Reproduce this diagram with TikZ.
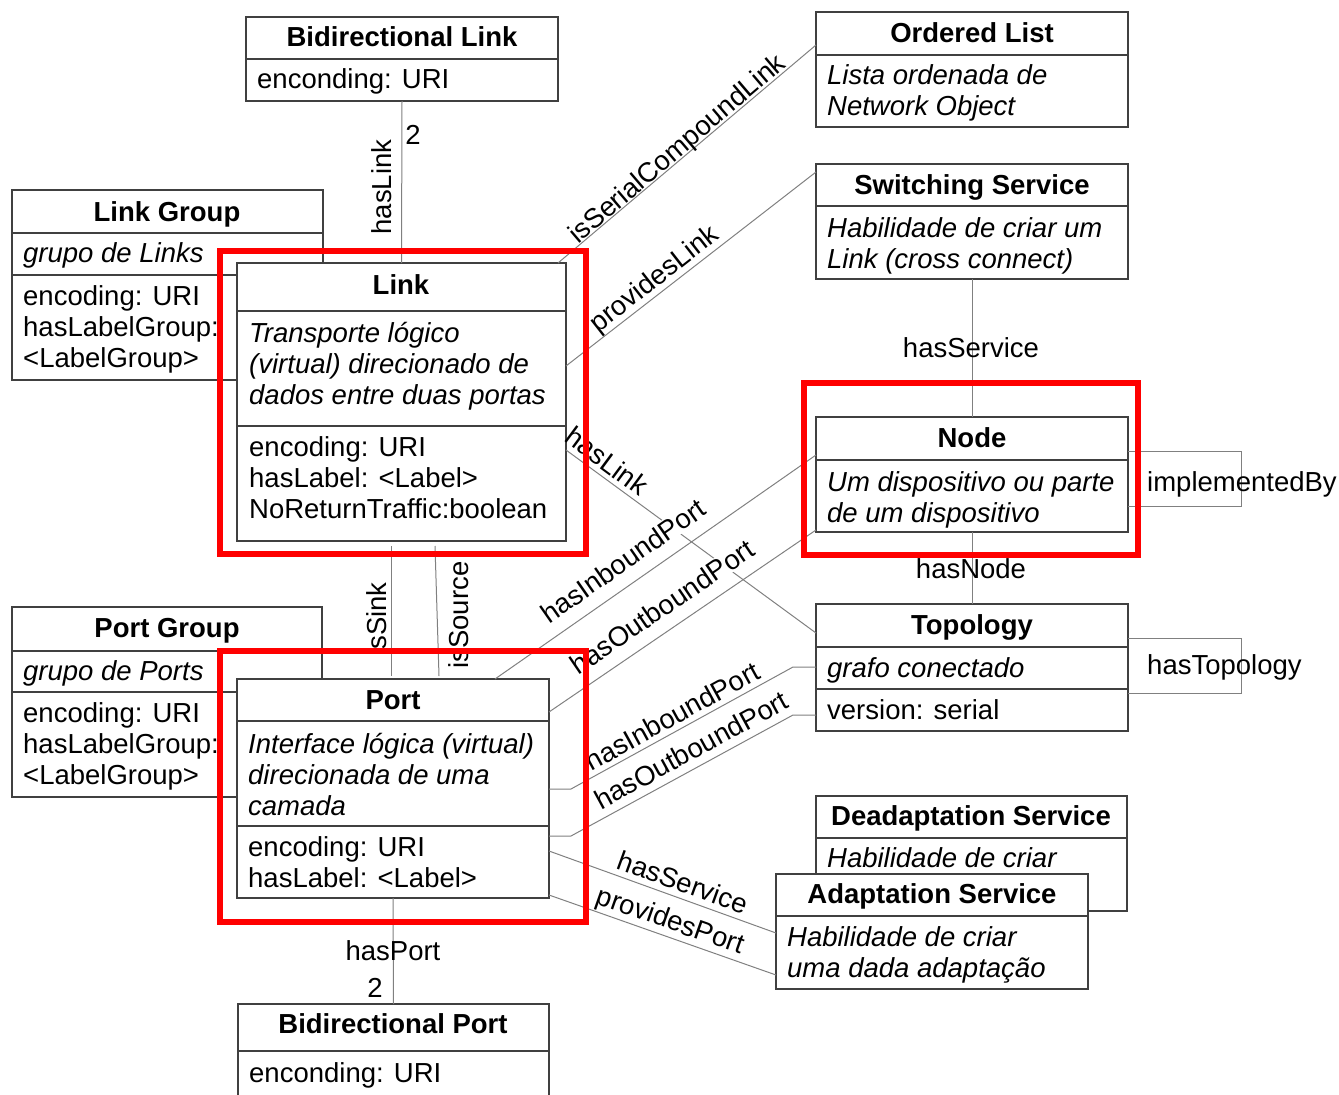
\documentclass[tikz,border=0pt]{standalone}
\usepackage{fontspec}
\setmainfont{Liberation Sans}

% class box: name, left, top, width, height
\newcommand\umlbox[5]{\node[umlbox, minimum width=#4pt, minimum height=#5pt] (#1) at (#2,#3) {};}
% horizontal compartment separator inside a box
\newcommand\umlrow[2]{\draw[boxline] (#1.west |- 0,#2) -- (#1.east |- 0,#2);}
% one line of text: name, style, x, baseline y, text
\newcommand\boxtext[5]{\node[#2] (#1) at (#3,#4) {#5};}
\newcommand\bodyfont{\fontsize{27.5}{31}\selectfont}

\begin{document}
\begin{tikzpicture}[x=1pt, y=-1pt,
  boxline/.style={draw=black!75, line width=1.3pt},
  umlbox/.style={boxline, fill=white, inner sep=0pt, outer sep=0pt, anchor=north west},
  txt/.style={inner sep=0pt, anchor=base west, font=\bodyfont},
  desc/.style={txt, font=\bodyfont\itshape},
  ttl/.style={inner sep=0pt, anchor=base, font=\bodyfont\bfseries},
  conn/.style={draw=black!50, line width=1pt},
  lbl/.style={inner sep=1pt, font=\bodyfont},
  lblw/.style={lbl, fill=white},
  hilite/.style={draw=red, line width=6pt, inner sep=0pt, outer sep=0pt, anchor=north west}
]
\useasboundingbox (0,0) rectangle (1339,1095);

% ---------- classes ----------
\umlbox{bl}{246}{17}{312}{84}
\umlrow{bl}{59}
\boxtext{bl-t}{ttl}{402}{46}{Bidirectional Link}
\boxtext{bl-a}{txt}{257}{88}{enconding: URI}

\umlbox{ol}{816}{12}{312}{115}
\umlrow{ol}{55}
\boxtext{ol-t}{ttl}{972}{42}{Ordered List}
\boxtext{ol-d1}{desc}{827}{84}{Lista ordenada de}
\boxtext{ol-d2}{desc}{827}{115}{Network Object}

\umlbox{lg}{12}{190}{311}{190}
\umlrow{lg}{233}
\umlrow{lg}{275}
\boxtext{lg-t}{ttl}{167}{221}{Link Group}
\boxtext{lg-d}{desc}{23}{262}{grupo de Links}
\boxtext{lg-a1}{txt}{23}{305}{encoding: URI}
\boxtext{lg-a2}{txt}{23}{336}{hasLabelGroup:}
\boxtext{lg-a3}{txt}{23}{367}{<LabelGroup>}

\umlbox{ss}{816}{164}{312}{115}
\umlrow{ss}{206}
\boxtext{ss-t}{ttl}{972}{194}{Switching Service}
\boxtext{ss-d1}{desc}{827}{237}{Habilidade de criar um}
\boxtext{ss-d2}{desc}{827}{268}{Link (cross connect)}

\umlbox{link}{237}{263}{329}{278}
\umlrow{link}{311}
\umlrow{link}{426}
\boxtext{link-t}{ttl}{401}{294}{Link}
\boxtext{link-d1}{desc}{249}{342}{Transporte lógico}
\boxtext{link-d2}{desc}{249}{373}{(virtual) direcionado de}
\boxtext{link-d3}{desc}{249}{404}{dados entre duas portas}
\boxtext{link-a1}{txt}{249}{456}{encoding: URI}
\boxtext{link-a2}{txt}{249}{487}{hasLabel: <Label>}
\boxtext{link-a3}{txt}{249}{518}{NoReturnTraffic:boolean}

\umlbox{node}{816}{417}{312}{115}
\umlrow{node}{460}
\boxtext{node-t}{ttl}{972}{447}{Node}
\boxtext{node-d1}{desc}{827}{491}{Um dispositivo ou parte}
\boxtext{node-d2}{desc}{827}{522}{de um dispositivo}

\umlbox{topo}{816}{604}{312}{127}
\umlrow{topo}{647}
\umlrow{topo}{689}
\boxtext{topo-t}{ttl}{972}{634}{Topology}
\boxtext{topo-d}{desc}{827}{677}{grafo conectado}
\boxtext{topo-a}{txt}{827}{719}{version: serial}

\umlbox{pg}{12}{607}{310}{190}
\umlrow{pg}{651}
\umlrow{pg}{692}
\boxtext{pg-t}{ttl}{167}{637}{Port Group}
\boxtext{pg-d}{desc}{23}{680}{grupo de Ports}
\boxtext{pg-a1}{txt}{23}{722}{encoding: URI}
\boxtext{pg-a2}{txt}{23}{753}{hasLabelGroup:}
\boxtext{pg-a3}{txt}{23}{784}{<LabelGroup>}

\umlbox{port}{237}{679}{312}{219}
\umlrow{port}{721}
\umlrow{port}{826}
\boxtext{port-t}{ttl}{393}{709}{Port}
\boxtext{port-d1}{desc}{248}{753}{Interface lógica (virtual)}
\boxtext{port-d2}{desc}{248}{784}{direcionada de uma}
\boxtext{port-d3}{desc}{248}{815}{camada}
\boxtext{port-a1}{txt}{248}{856}{encoding: URI}
\boxtext{port-a2}{txt}{248}{887}{hasLabel: <Label>}

\umlbox{das}{816}{796}{311}{115}
\umlrow{das}{838}
\boxtext{das-t}{ttl}{971}{825}{Deadaptation Service}
\boxtext{das-d}{desc}{827}{867}{Habilidade de criar}

\umlbox{as}{776}{874}{312}{115}
\umlrow{as}{916}
\boxtext{as-t}{ttl}{932}{903}{Adaptation Service}
\boxtext{as-d1}{desc}{787}{946}{Habilidade de criar}
\boxtext{as-d2}{desc}{787}{977}{uma dada adaptação}

\umlbox{bp}{238}{1004}{311}{100}
\umlrow{bp}{1051}
\boxtext{bp-t}{ttl}{393}{1033}{Bidirectional Port}
\boxtext{bp-a}{txt}{249}{1082}{enconding: URI}

% ---------- associations ----------
\draw[conn] (link.east |- 0,450) -- (topo.west |- 0,633);
\draw[conn] (bl.south) -- (link.north);
\draw[conn] ([xshift=-8pt]link.north east) -- (ol.west |- 0,45);
\draw[conn] (link.east |- 0,366) -- (ss.west |- 0,172);
\draw[conn] ([xshift=-54pt]port.north east) -- (node.west |- 0,455);
\draw[conn] (port.east |- 0,712) -- (node.west |- 0,530);
\draw[conn] (port.east |- 0,789) -- ++(22,0) -- ([xshift=-23pt]topo.west |- 0,667) -- (topo.west |- 0,667);
\draw[conn] (port.east |- 0,836) -- ++(22,0) -- ([xshift=-23pt]topo.west |- 0,715) -- (topo.west |- 0,715);
\draw[conn] (port.east |- 0,851) -- (as.west |- 0,933);
\draw[conn] (port.east |- 0,895) -- (as.west |- 0,975);
\draw[conn] (ss.south) -- (node.north);
\draw[conn] (node.south) -- (topo.north);
\draw[conn] (port.south) -- (bp.north);
\draw[conn] ([yshift=-5pt]link.south -| 391,0) -- ([yshift=3pt]port.north -| 391,0);
\draw[conn] ([yshift=-5pt]link.south -| 435,0) -- ([yshift=3pt]port.north -| 439,0);
\draw[conn] (node.east |- 0,451) -- ++(113,0) -- ++(0,55) -- ++(-113,0);
\draw[conn] (topo.east |- 0,638) -- ++(113,0) -- ++(0,55) -- ++(-113,0);

% ---------- association labels ----------
\node[lbl, rotate=90] (lb-haslink-v) at (382,187) {hasLink};
\node[lbl] (lb-two-l) at (413,135) {2};
\node[lbl, rotate=40.5] (lb-serial) at (678,150) {isSerialCompoundLink};
\node[lbl, rotate=38.1] (lb-provlink) at (655,280) {providesLink};
\node[lbl, rotate=-36.5] (lb-haslink-d) at (607,461) {hasLink};
\node[lblw, rotate=34.9] (lb-inb-n) at (623,561) {hasInboundPort};
\node[lblw, rotate=34.3] (lb-outb-n) at (662,607) {hasOutboundPort};
\node[lbl, rotate=28.8] (lb-inb-t) at (672,716) {hasInboundPort};
\node[lbl, rotate=28.6] (lb-outb-t) at (691,750) {hasOutboundPort};
\node[lbl, rotate=-19.9] (lb-hasserv-p) at (683,882) {hasService};
\node[lbl, rotate=-19.4] (lb-provport) at (670,922) {providesPort};
\node[lbl] (lb-hasserv-n) at (971,348) {hasService};
\node[lbl] (lb-hasnode) at (971,569) {hasNode};
\node[lbl, anchor=west, inner sep=0pt] (lb-impl) at (1147,484) {implementedBy};
\node[lbl, anchor=west, inner sep=0pt] (lb-hastopo) at (1147,667) {hasTopology};
\node[lbl] (lb-hasport) at (393,951) {hasPort};
\node[lbl] (lb-two-p) at (375,988) {2};
\node[lbl, rotate=90] (lb-sink) at (377,619) {isSink};
\node[lbl, rotate=90] (lb-source) at (459,615) {isSource};

% ---------- highlighted classes ----------
\node[hilite, minimum width=366pt, minimum height=303pt] (hl-link) at (220,251) {};
\node[hilite, minimum width=334pt, minimum height=172pt] (hl-node) at (804,383) {};
\node[hilite, minimum width=366pt, minimum height=271pt] (hl-port) at (220,651) {};
\end{tikzpicture}
\end{document}
